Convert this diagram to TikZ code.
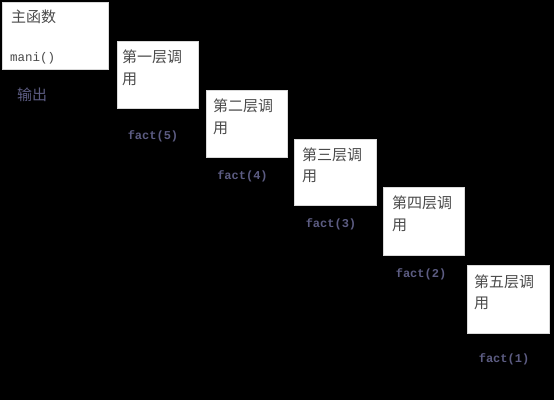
\documentclass[tikz,border=0pt]{standalone}
\usepackage{fontspec}
\newfontfamily\cjk{Noto Sans CJK SC}
\newfontfamily\mono{Liberation Mono}
\definecolor{boxtext}{HTML}{4A4A4A}
\definecolor{lbl}{HTML}{5C5C82}
\begin{document}
\begin{tikzpicture}[x=1pt,y=-1pt,
  callbox/.style={draw=white!85!black,line width=0.6pt,fill=white,anchor=north west,inner sep=0pt,
    minimum width=81pt,minimum height=67pt},
  ctext/.style={anchor=west,inner sep=0pt,text=boxtext,font=\cjk\fontsize{15}{15}\selectfont},
  mtext/.style={anchor=west,inner sep=0pt,text=boxtext,font=\mono\fontsize{12.5}{12.5}\selectfont},
  flabel/.style={inner sep=0pt,text=lbl,font=\mono\bfseries\fontsize{12}{12}\selectfont}]
\fill[black] (0,0) rectangle (554,400);
\useasboundingbox (0,0) rectangle (554,400);
% main box
\node[callbox,minimum width=106pt,minimum height=67pt] (main) at (2,2) {};
\node[ctext] (mainA) at (11,17) {主函数};
\node[mtext] (mainB) at (10,58) {mani()};
\node[ctext,text=lbl] (out) at (17,95) {输出};
% call boxes
\node[callbox] (b1) at (117,41) {};
\node[callbox] (b2) at (206,90) {};
\node[callbox,minimum width=82pt,minimum height=66pt] (b3) at (294,139) {};
\node[callbox,minimum height=68pt] (b4) at (383,187) {};
\node[callbox,minimum width=82pt,minimum height=68pt] (b5) at (467,265) {};
\node[ctext] (t1a) at (122,57) {第一层调};
\node[ctext] (t1b) at (122,79) {用};
\node[ctext] (t2a) at (213,106) {第二层调};
\node[ctext] (t2b) at (213,128) {用};
\node[ctext] (t3a) at (302,155) {第三层调};
\node[ctext] (t3b) at (302,176) {用};
\node[ctext] (t4a) at (392,203) {第四层调};
\node[ctext] (t4b) at (392,225) {用};
\node[ctext] (t5a) at (474,282) {第五层调};
\node[ctext] (t5b) at (474,303) {用};
% labels
\node[flabel] (f5) at (153,136) {fact(5)};
\node[flabel] (f4) at (242.5,176) {fact(4)};
\node[flabel] (f3) at (331,224) {fact(3)};
\node[flabel] (f2) at (421,274) {fact(2)};
\node[flabel] (f1) at (504,359) {fact(1)};
\end{tikzpicture}
\end{document}
